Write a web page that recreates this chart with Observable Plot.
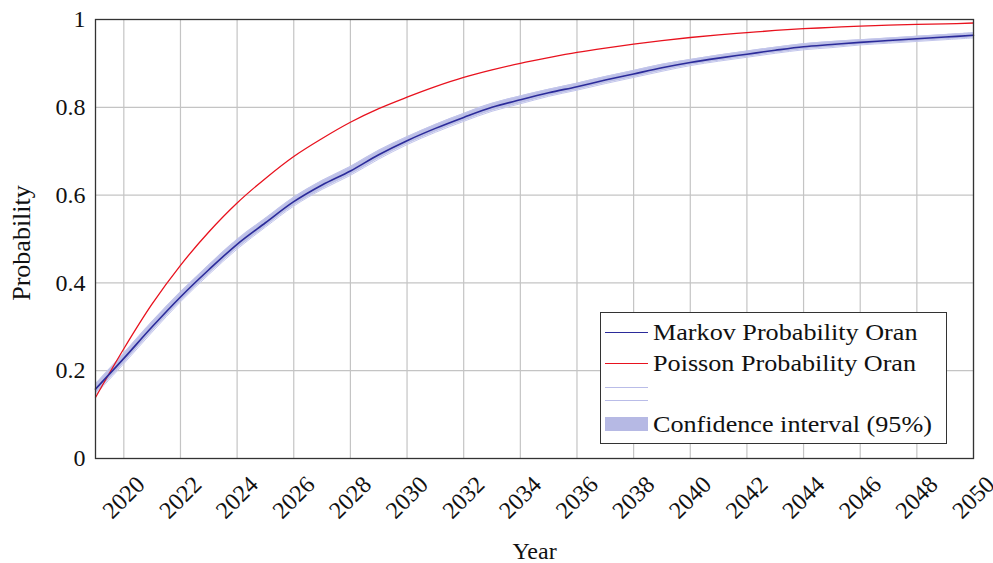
<!DOCTYPE html>
<html>
<head>
<meta charset="utf-8">
<script src="https://cdn.jsdelivr.net/npm/d3@7"></script>
<script src="https://cdn.jsdelivr.net/npm/@observablehq/plot@0.6"></script>
<style>
  html, body { margin: 0; padding: 0; background: #fff; }
  #wrap { position: relative; width: 993px; height: 563px; font-family: "Liberation Serif", "Times New Roman", serif; }
  #legend { position: absolute; left: 600px; top: 312px; width: 345px; height: 130px; border: 1.2px solid #333; background: #fff; font-size: 24px; color: #111; }
  .row { position: absolute; left: 0; height: 24px; display: flex; align-items: center; white-space: nowrap; }
  .row span { display: inline-block; transform: scaleX(1.09); transform-origin: left center; }
  .sw { width: 43px; margin-left: 4px; margin-right: 5px; }
</style>
</head>
<body>
<div id="wrap">
  <div id="chart"></div>
  <div id="legend">
    <div class="row" style="top:7px"><div class="sw" style="border-top:1.6px solid #2b2b9a"></div><span>Markov Probability Oran</span></div>
    <div class="row" style="top:38px"><div class="sw" style="border-top:1.3px solid #e8121e"></div><span>Poisson Probability Oran</span></div>
    <div class="row" style="top:62px"><div class="sw" style="border-top:1px solid #b9bce8"></div></div>
    <div class="row" style="top:75px"><div class="sw" style="border-top:1px solid #b9bce8"></div></div>
    <div class="row" style="top:99px"><div class="sw" style="height:14px;background:#b6b9e4"></div><span>Confidence interval (95%)</span></div>
  </div>
</div>
<script>
const years = d3.range(2019, 2051);
const markov = [0.158, 0.228, 0.300, 0.368, 0.430, 0.488, 0.537, 0.585, 0.623, 0.655, 0.692, 0.724, 0.752, 0.777, 0.800, 0.817, 0.833, 0.847, 0.862, 0.876, 0.890, 0.902, 0.912, 0.921, 0.930, 0.938, 0.943, 0.948, 0.952, 0.956, 0.960, 0.964];
const poisson = [0.139, 0.250, 0.352, 0.440, 0.516, 0.582, 0.638, 0.688, 0.729, 0.766, 0.797, 0.823, 0.847, 0.868, 0.885, 0.900, 0.913, 0.925, 0.935, 0.944, 0.952, 0.959, 0.965, 0.970, 0.975, 0.979, 0.982, 0.985, 0.987, 0.989, 0.990, 0.992];
const ciHalf = [0.012, 0.012, 0.012, 0.011, 0.011, 0.011, 0.010, 0.010, 0.010, 0.010, 0.010, 0.009, 0.009, 0.009, 0.009, 0.009, 0.008, 0.008, 0.008, 0.008, 0.008, 0.007, 0.007, 0.007, 0.007, 0.007, 0.007, 0.006, 0.006, 0.006, 0.006, 0.006];
const xTicks = d3.range(2020, 2051, 2);
const yTicks = [0, 0.2, 0.4, 0.6, 0.8, 1];
const xLabel = "Year";
const yLabel = "Probability";

const data = years.map((yr, i) => ({year: yr, markov: markov[i], poisson: poisson[i], lo: markov[i] - ciHalf[i], hi: markov[i] + ciHalf[i]}));
const font = "Liberation Serif";

const chart = Plot.plot({
  width: 993,
  height: 563,
  marginLeft: 95,
  marginRight: 20,
  marginTop: 19,
  marginBottom: 105,
  style: {fontFamily: font, fontSize: "24px", color: "#111", background: "#fff"},
  x: {domain: [2019, 2050], axis: null},
  y: {domain: [0, 1], axis: null},
  marks: [
    Plot.gridX(xTicks, {stroke: "#c4c4c4", strokeOpacity: 1, strokeWidth: 1.2}),
    Plot.gridY(yTicks.filter(d => d > 0 && d < 1), {stroke: "#c4c4c4", strokeOpacity: 1, strokeWidth: 1.2}),
    Plot.areaY(data, {x: "year", y1: "lo", y2: "hi", fill: "#b6b9e4", fillOpacity: 0.9, curve: "catmull-rom"}),
    Plot.line(data, {x: "year", y: "lo", stroke: "#c3c6ec", strokeWidth: 1, curve: "catmull-rom"}),
    Plot.line(data, {x: "year", y: "hi", stroke: "#c3c6ec", strokeWidth: 1, curve: "catmull-rom"}),
    Plot.line(data, {x: "year", y: "poisson", stroke: "#e8121e", strokeWidth: 1.3, curve: "catmull-rom"}),
    Plot.line(data, {x: "year", y: "markov", stroke: "#2b2b9a", strokeWidth: 1.6, curve: "catmull-rom"}),
    Plot.frame({stroke: "#333", strokeWidth: 1.3}),
    Plot.text(yTicks, {x: 2019, y: d => d, text: d => String(d), textAnchor: "end", dx: -10, fontSize: 24, fill: "#111"}),
    Plot.text(xTicks, {x: d => d, text: d => String(d), frameAnchor: "bottom", lineAnchor: "middle", dy: 39, rotate: -45, textAnchor: "middle", fontSize: 24, fill: "#111"}),
    Plot.text([xLabel], {frameAnchor: "bottom", lineAnchor: "middle", dy: 93, text: d => d, fontSize: 24, fill: "#111"}),
    Plot.text([yLabel], {frameAnchor: "left", textAnchor: "middle", lineAnchor: "middle", dx: -74, dy: 4, rotate: -90, text: d => d, fontSize: 26, fill: "#111"})
  ]
});
document.getElementById("chart").appendChild(chart);
</script>
</body>
</html>
